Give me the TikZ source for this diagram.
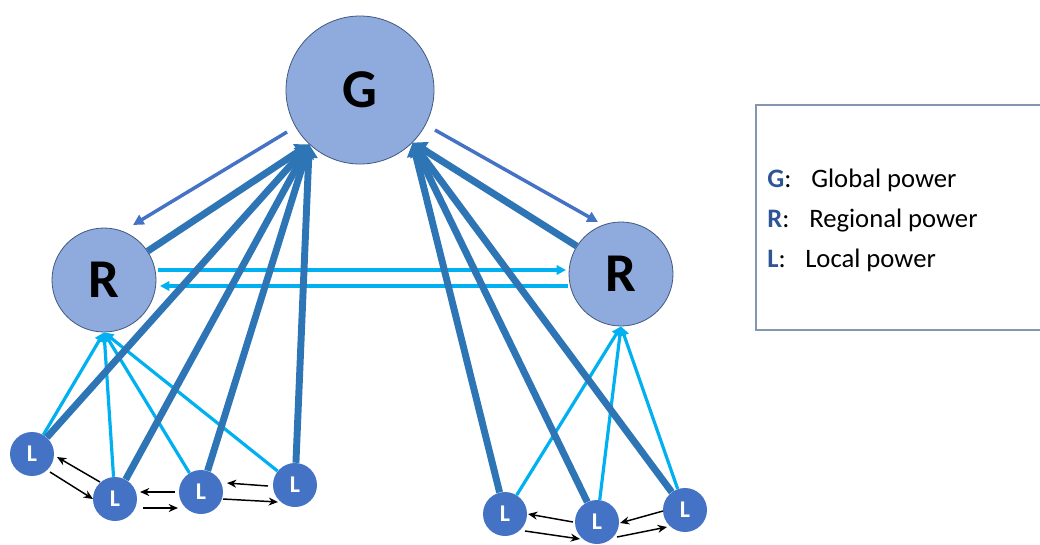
\documentclass[tikz,border=0pt]{standalone}
\usepackage{fontspec}
\setmainfont{Carlito}
\usetikzlibrary{arrows.meta,calc}

\definecolor{pale}{HTML}{8FAADC}
\definecolor{rim}{HTML}{41587F}
\definecolor{deep}{HTML}{4472C4}
\definecolor{steel}{HTML}{2E75B6}
\definecolor{sky}{HTML}{00B0F0}
\definecolor{legblue}{HTML}{2F5597}
\definecolor{frame}{HTML}{8497B0}

\tikzset{
  gnode/.style={circle, draw=rim, line width=.6pt, fill=pale, minimum size=111pt, inner sep=0pt,
    font=\bfseries\fontsize{41}{41}\selectfont},
  rnode/.style={circle, draw=rim, line width=.6pt, fill=pale, minimum size=78pt, inner sep=0pt,
    font=\bfseries\fontsize{41}{41}\selectfont},
  lnode/.style={circle, fill=deep, text=white, minimum size=33pt, inner sep=0pt,
    font=\bfseries\fontsize{18}{18}\selectfont},
  upline/.style={draw=steel, line width=5.2pt, -{Triangle[length=10pt,width=13pt]}},
  downline/.style={draw=deep, line width=2.6pt, -{Triangle[length=8pt,width=8pt]}},
  skyline/.style={draw=sky, line width=2.4pt, -{Triangle[length=7pt,width=7pt]}},
  msg/.style={draw=black, line width=1.1pt, -{Stealth[length=7pt,width=6pt]}},
  legtext/.style={anchor=base west, inner sep=0pt, font=\fontsize{20}{20}\selectfont}
}

\begin{document}
\begin{tikzpicture}[x=0.75pt,y=-0.75pt]

      \useasboundingbox (0,0) rectangle (1040,544);

      % powers
      \node[gnode] at (360,90) (G) {G};
      \node[rnode] at (104,280) (RL) {R};
      \node[rnode] at (621,274) (RR) {R};

      \node[lnode] at (32,454) (L1) {L};
      \node[lnode] at (115,499) (L2) {L};
      \node[lnode] at (201,492) (L3) {L};
      \node[lnode] at (295,485) (L4) {L};
      \node[lnode] at (505,514) (L5) {L};
      \node[lnode] at (597,522) (L6) {L};
      \node[lnode] at (685,510) (L7) {L};

      % local to regional
      \foreach \l in {L1,L2,L3,L4}
        \draw[skyline] (\l) -- (RL.south);
      \foreach \l in {L5,L6,L7}
        \draw[skyline] (\l) -- (RR.south);

      % regional to regional
      \draw[skyline] ($(RL)+(54,-10)$) -- ($(RR)+(-55,-4)$);
      \draw[skyline] ($(RR)+(-53,12)$) -- ($(RL)+(56,6)$);

      % up to global
      \foreach \l in {RL,L1,L2,L3,L4}
        \draw[upline] (\l) -- (G.227);
      \foreach \l in {RR,L5,L6,L7}
        \draw[upline] (\l) -- (G.315);

      % global to regional
      \draw[downline] ($(G)+(-73,42)$) -- ($(RL)+(29,-55)$);
      \draw[downline] ($(G)+(75,40)$) -- ($(RR)+(-23,-52)$);

      % between locals
      \draw[msg] ($(L2)+(-15,-17)$) -- ($(L1)+(25,3)$);
      \draw[msg] ($(L1)+(18,18)$) -- ($(L2)+(-22,0)$);
      \draw[msg] ($(L3)+(-26,0)$) -- ($(L2)+(25,-7)$);
      \draw[msg] ($(L2)+(28,9)$) -- ($(L3)+(-23,16)$);
      \draw[msg] ($(L4)+(-27,1)$) -- ($(L3)+(26,-9)$);
      \draw[msg] ($(L3)+(22,7)$) -- ($(L4)+(-17,17)$);
      \draw[msg] ($(L6)+(-24,0)$) -- ($(L5)+(23,0)$);
      \draw[msg] ($(L5)+(20,17)$) -- ($(L6)+(-17,17)$);
      \draw[msg] ($(L7)+(-22,1)$) -- ($(L6)+(23,1)$);
      \draw[msg] ($(L6)+(20,15)$) -- ($(L7)+(-18,17)$);

      % legend
      \draw[frame, line width=1pt] (756,105) rectangle (1048,330);
      \node[legtext] at (767,187) (kG) {\textcolor{legblue}{\textbf{G}}:};
      \node[legtext] at (811,187) (tG) {Global power};
      \node[legtext] at (767,227) (kR) {\textcolor{legblue}{\textbf{R}}:};
      \node[legtext] at (809,227) (tR) {Regional power};
      \node[legtext] at (767,267) (kL) {\textcolor{legblue}{\textbf{L}}:};
      \node[legtext] at (805,267) (tL) {Local power};
    \end{tikzpicture}
\end{document}
